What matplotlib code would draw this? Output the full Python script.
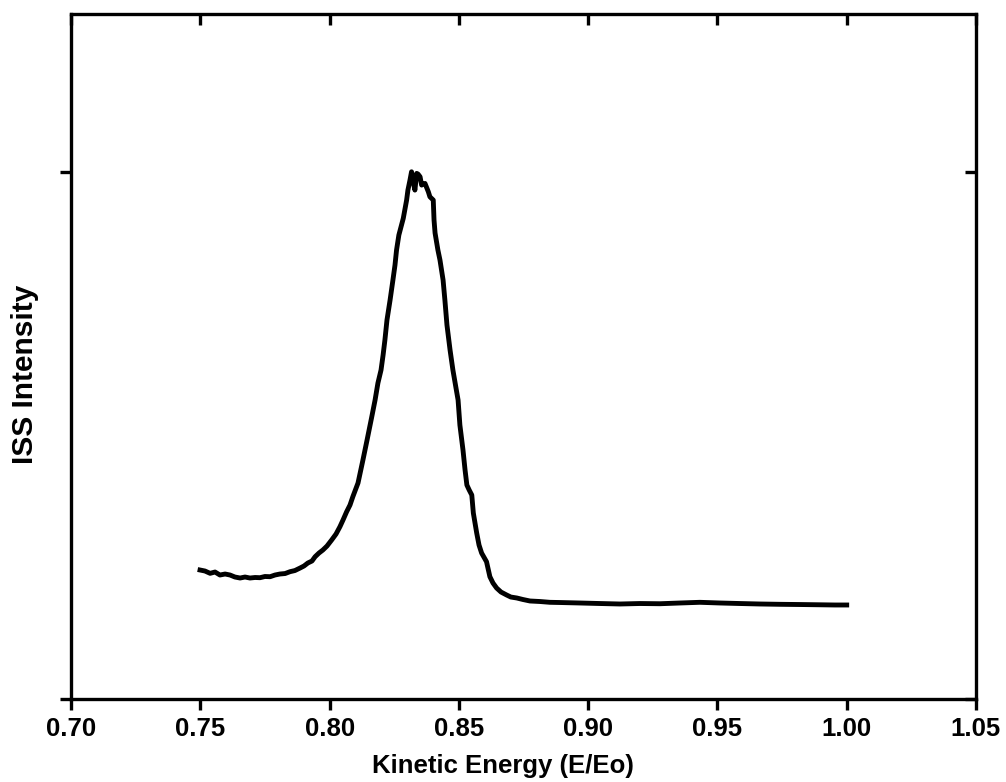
import matplotlib
matplotlib.use("Agg")
import matplotlib.pyplot as plt

# Kinetic energy (E/Eo) and ISS intensity (arbitrary units)
energy = [0.7499, 0.7518, 0.7538, 0.7557, 0.7576, 0.7596, 0.7615, 0.7634, 0.7654, 0.7673,
          0.7692, 0.7712, 0.7731, 0.7750, 0.7770, 0.7789, 0.7808, 0.7828, 0.7847, 0.7866,
          0.7886, 0.7901, 0.7916, 0.7932, 0.7944, 0.7959, 0.7974, 0.7990, 0.8008, 0.8025,
          0.8040, 0.8052, 0.8066, 0.8079, 0.8090, 0.8110, 0.8129, 0.8145, 0.8163, 0.8176,
          0.8187, 0.8199, 0.8207, 0.8214, 0.8222, 0.8234, 0.8245, 0.8253, 0.8259, 0.8268,
          0.8285, 0.8298, 0.8303, 0.8311, 0.8317, 0.8322, 0.8330, 0.8337, 0.8342, 0.8350,
          0.8356, 0.8369, 0.8382, 0.8388, 0.8401, 0.8404, 0.8408, 0.8419, 0.8427, 0.8439,
          0.8446, 0.8454, 0.8466, 0.8477, 0.8489, 0.8497, 0.8504, 0.8516, 0.8524, 0.8531,
          0.8540, 0.8550, 0.8556, 0.8569, 0.8578, 0.8588, 0.8607, 0.8620, 0.8632, 0.8646,
          0.8663, 0.8685, 0.8701, 0.8724, 0.8748, 0.8775, 0.8814, 0.8852, 0.8891, 0.8968,
          0.9046, 0.9123, 0.9200, 0.9278, 0.9355, 0.9432, 0.9510, 0.9587, 0.9664, 0.9742,
          0.9819, 0.9896, 0.9954, 1.0000]
intensity = [0.2448, 0.2429, 0.2385, 0.2410, 0.2353, 0.2372, 0.2353, 0.2315, 0.2296, 0.2315,
             0.2296, 0.2306, 0.2302, 0.2325, 0.2321, 0.2353, 0.2372, 0.2381, 0.2416, 0.2438,
             0.2486, 0.2524, 0.2581, 0.2619, 0.2700, 0.2770, 0.2827, 0.2903, 0.3017, 0.3131,
             0.3269, 0.3397, 0.3554, 0.3681, 0.3839, 0.4099, 0.4535, 0.4915, 0.5351, 0.5674,
             0.5996, 0.6243, 0.6528, 0.6812, 0.7192, 0.7571, 0.7951, 0.8235, 0.8520, 0.8805,
             0.9121, 0.9469, 0.9658, 0.9848, 1.0006, 0.9848, 0.9658, 0.9975, 0.9962, 0.9911,
             0.9753, 0.9785, 0.9626, 0.9531, 0.9469, 0.9089, 0.8843, 0.8520, 0.8330, 0.7951,
             0.7571, 0.7097, 0.6622, 0.6243, 0.5901, 0.5674, 0.5199, 0.4725, 0.4345, 0.4061,
             0.3966, 0.3871, 0.3529, 0.3150, 0.2922, 0.2770, 0.2605, 0.2321, 0.2201, 0.2106,
             0.2030, 0.1973, 0.1935, 0.1917, 0.1888, 0.1860, 0.1850, 0.1835, 0.1831, 0.1822,
             0.1812, 0.1803, 0.1812, 0.1808, 0.1822, 0.1835, 0.1822, 0.1812, 0.1803, 0.1797,
             0.1793, 0.1788, 0.1784, 0.1784]

x_ticks = [0.70, 0.75, 0.80, 0.85, 0.90, 0.95, 1.00, 1.05]
x_tick_labels = ["0.70", "0.75", "0.80", "0.85", "0.90", "0.95", "1.00", "1.05"]
y_ticks = [0.0, 1.0]

plt.rcParams['font.family'] = ['Liberation Sans', 'DejaVu Sans']
plt.rcParams['font.weight'] = 'bold'

W, H = 1006, 782
fig = plt.figure(figsize=(W / 100, H / 100), dpi=100)
L, R, T, B = 71, 976, 14, 699
ax = fig.add_axes([L / W, 1 - B / H, (R - L) / W, (B - T) / H])

ax.plot(energy, intensity, color='black', lw=3.5, solid_joinstyle='round')
ax.set_xlim(0.70, 1.05)
ax.set_ylim(0.0, 1.3)

for s in ax.spines.values():
    s.set_linewidth(2.4)

ax.set_xticks(x_ticks)
ax.set_xticklabels(x_tick_labels, fontsize=18.5, fontweight='bold')
ax.set_yticks(y_ticks)
ax.set_yticklabels([])
ax.tick_params(axis='both', direction='out', length=8, width=2.4, pad=5,
               top=False, right=False)

# inward ticks on top and right
secx = ax.secondary_xaxis('top')
secx.set_xticks(x_ticks)
secx.tick_params(direction='in', length=8, width=2.4, labeltop=False)
secx.spines['top'].set_visible(False)
secy = ax.secondary_yaxis('right')
secy.set_yticks(y_ticks)
secy.tick_params(direction='in', length=8, width=2.4, labelright=False)
secy.spines['right'].set_visible(False)

fig.text(503 / W, 1 - 766 / H, "Kinetic Energy (E/Eo)", ha='center', va='center',
         fontsize=18.5, fontweight='bold')
fig.text(25 / W, 1 - 374 / H, "ISS Intensity", ha='center', va='center',
         rotation=90, fontsize=21.5, fontweight='bold')

fig.savefig("out.png", dpi=100)
